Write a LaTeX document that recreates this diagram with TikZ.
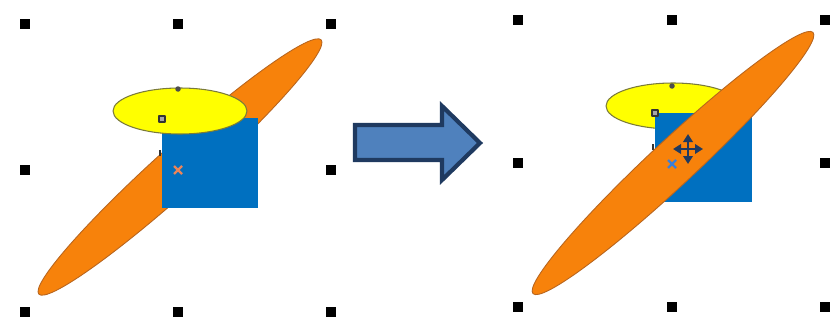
\documentclass[tikz,border=0pt]{standalone}
\usepackage{tikz}
\usetikzlibrary{arrows.meta,shapes.geometric}
\definecolor{bladeorange}{HTML}{F7820B}
\definecolor{bladeedge}{HTML}{B8651E}
\definecolor{lemon}{HTML}{FFFF00}
\definecolor{lemonedge}{HTML}{7A7A3A}
\definecolor{boxblue}{HTML}{0070C0}
\definecolor{arrowblue}{HTML}{4F81BD}
\definecolor{navy}{HTML}{1F3A60}
\definecolor{markorange}{HTML}{E9845A}
\definecolor{markblue}{HTML}{3C7FD8}
\tikzset{
    every picture/.style={line cap=round,line join=round},
    handle/.style={rectangle,fill=black,minimum size=0.2cm,inner sep=0pt,outer sep=0pt},
    blade/.style={ellipse,draw=bladeedge,fill=bladeorange,line width=0.5pt,
      minimum width=7.6cm,minimum height=0.9cm,inner sep=0pt},
    lemonoval/.style={ellipse,draw=lemonedge,fill=lemon,line width=0.6pt,
      minimum width=2.68cm,minimum height=0.92cm,inner sep=0pt},
    bluebox/.style={rectangle,fill=boxblue,minimum width=1.93cm,
      minimum height=1.8cm,inner sep=0pt},
    topdot/.style={circle,fill=black!70,minimum size=0.11cm,inner sep=0pt},
    cornerhandle/.style={rectangle,draw=black!80,fill=black!35,line width=0.6pt,
      minimum size=0.12cm,inner sep=0pt},
    sidetick/.style={rectangle,fill=black!80,minimum width=0.05cm,
      minimum height=0.12cm,inner sep=0pt},
    centremark/.style={line width=1.4pt,line cap=butt},
    bigarrow/.style={draw=navy,fill=arrowblue,line width=2.4pt,line join=miter},
    movecursor/.style={{Triangle[length=1.6mm,width=1.9mm]}-{Triangle[length=1.6mm,width=1.9mm]},
      draw=navy,line width=1.3pt}
}
\begin{document}
\begin{tikzpicture}[x=0.02cm,y=-0.02cm]
  \fill[white] (0,0) rectangle (832,321);
  \useasboundingbox (0,0) rectangle (832,321);
  % before: oval on top
  \node[blade,rotate=42] (bladeL) at (180,167) {};
  \node[bluebox] (boxL) at (210,163) {};
  \node[lemonoval] (ovalL) at (180,111) {};
  \node[topdot] (dotL) at (178,89) {};
  \node[cornerhandle] (cornL) at (162,119) {};
  \node[sidetick] (tickL) at (160,153) {};
  \coordinate (xL) at (178,170);
  \draw[centremark,markorange] ([shift={(-4,-4)}]xL) -- ([shift={(4,4)}]xL)
    ([shift={(-4,4)}]xL) -- ([shift={(4,-4)}]xL);
  \foreach \n/\x/\y in {1/25/24,2/178/24,3/331/24,4/25/170,5/331/170,6/25/312,7/178/312,8/331/312}
    \node[handle] (hL\n) at (\x,\y) {};
  % arrow
  \draw[bigarrow] (355,125) -- (442,125) -- (442,106) -- (480,143) -- (442,180)
    -- (442,160) -- (355,160) -- cycle;
  % after: blade on top
  \node[lemonoval] (ovalR) at (673,106) {};
  \node[bluebox] (boxR) at (703.5,157.5) {};
  \node[topdot] (dotR) at (672,86) {};
  \node[cornerhandle] (cornR) at (655,113) {};
  \node[sidetick] (tickR) at (653,147) {};
  \node[blade,rotate=43,minimum width=7.66cm] (bladeR) at (673,163) {};
  \coordinate (xR) at (672,164);
  \draw[centremark,markblue] ([shift={(-4,-4)}]xR) -- ([shift={(4,4)}]xR)
    ([shift={(-4,4)}]xR) -- ([shift={(4,-4)}]xR);
  \coordinate (mv) at (688,149);
  \draw[movecursor] ([xshift=-0.3cm]mv) -- ([xshift=0.3cm]mv);
  \draw[movecursor] ([yshift=-0.3cm]mv) -- ([yshift=0.3cm]mv);
  \foreach \n/\x/\y in {1/518/20,2/672/20,3/825/20,4/518/163,5/825/163,6/518/307,7/672/307,8/825/307}
    \node[handle] (hR\n) at (\x,\y) {};
\end{tikzpicture}
\end{document}
